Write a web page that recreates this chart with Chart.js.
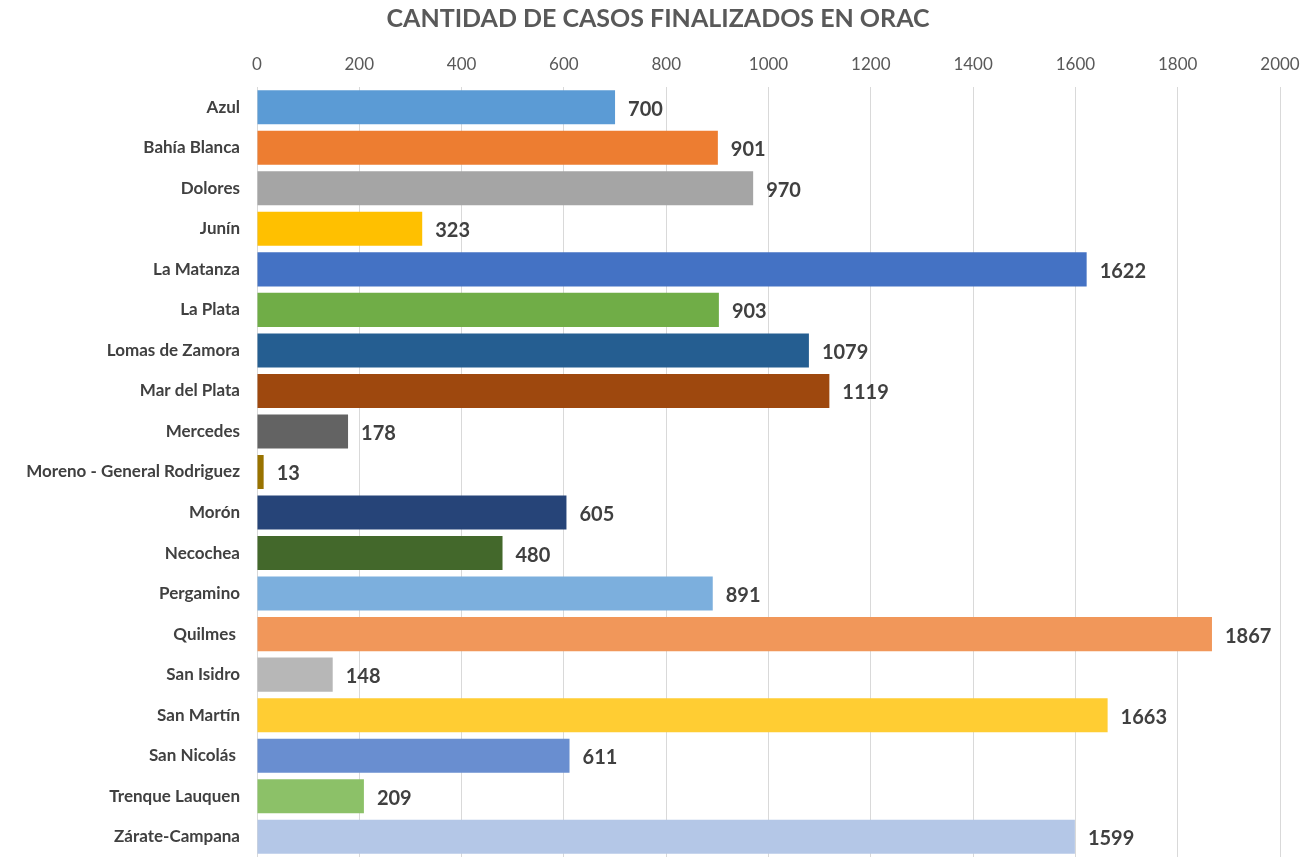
<!DOCTYPE html>
<html>
<head>
<meta charset="utf-8">
<script src="https://cdn.jsdelivr.net/npm/chart.js@4/dist/chart.umd.min.js"></script>
<style>
  html, body { margin: 0; padding: 0; background: #fff; }
  #wrap { width: 1316px; height: 857px; }
</style>
</head>
<body>
<div id="wrap"><canvas id="casosChart"></canvas></div>
<script>
const categories = [
  "Azul", "Bahía Blanca", "Dolores", "Junín", "La Matanza", "La Plata",
  "Lomas de Zamora", "Mar del Plata", "Mercedes", "Moreno - General Rodriguez",
  "Morón", "Necochea", "Pergamino", "Quilmes ", "San Isidro", "San Martín",
  "San Nicolás ", "Trenque Lauquen", "Zárate-Campana"
];
const casos = [700, 901, 970, 323, 1622, 903, 1079, 1119, 178, 13, 605, 480, 891, 1867, 148, 1663, 611, 209, 1599];
const barColors = [
  "#5B9BD5", "#ED7D31", "#A5A5A5", "#FFC000", "#4472C4", "#70AD47",
  "#255E91", "#9E480E", "#636363", "#997300", "#264478", "#43682B",
  "#7CAFDD", "#F1975A", "#B7B7B7", "#FFCD33", "#698ED0", "#8CC168", "#B4C7E7"
];
const xTicks = [0, 200, 400, 600, 800, 1000, 1200, 1400, 1600, 1800, 2000];

const FONT = "Lato, 'Open Sans', sans-serif";

// value labels drawn to the right of each bar
const valueLabels = {
  id: "valueLabels",
  afterDatasetsDraw(chart) {
    const ctx = chart.ctx;
    const meta = chart.getDatasetMeta(0);
    ctx.save();
    ctx.font = "bold 20px " + FONT;
    ctx.fillStyle = "#404040";
    ctx.textAlign = "left";
    ctx.textBaseline = "middle";
    meta.data.forEach((bar, i) => {
      ctx.fillText(String(casos[i]), bar.x + 13, bar.y + 2);
    });
    ctx.restore();
  }
};

new Chart(document.getElementById("casosChart"), {
  type: "bar",
  data: {
    labels: categories,
    datasets: [{
      data: casos,
      backgroundColor: barColors,
      borderWidth: 0,
      barPercentage: 0.84,
      categoryPercentage: 1.0
    }]
  },
  options: {
    indexAxis: "y",
    responsive: true,
    maintainAspectRatio: false,
    animation: false,
    layout: { padding: 0 },
    plugins: {
      legend: { display: false },
      tooltip: { enabled: false },
      title: {
        display: true,
        text: "CANTIDAD DE CASOS FINALIZADOS EN ORAC",
        color: "#595959",
        font: { family: FONT, size: 25, weight: "bold" },
        padding: { top: 4, bottom: 5 }
      }
    },
    scales: {
      x: {
        position: "top",
        min: 0,
        max: 2000,
        afterBuildTicks(scale) {
          scale.ticks = xTicks.map(v => ({ value: v }));
        },
        afterFit(scale) {
          scale.height = 48;
          scale.paddingLeft = 0;
          scale.paddingRight = 36;
        },
        ticks: {
          color: "#595959",
          font: { family: FONT, size: 17 },
          padding: 12,
          callback: v => String(v)
        },
        grid: { color: "#D9D9D9", lineWidth: 1, drawTicks: false },
        border: { display: false }
      },
      y: {
        afterFit(scale) {
          scale.width = 257;
          scale.paddingTop = 0;
          scale.paddingBottom = 0;
        },
        ticks: {
          color: "#404040",
          font: { family: FONT, size: 17, weight: "bold" },
          padding: 9
        },
        grid: { display: false },
        border: { display: true, color: "#D9D9D9" }
      }
    }
  },
  plugins: [valueLabels]
});
</script>
</body>
</html>
